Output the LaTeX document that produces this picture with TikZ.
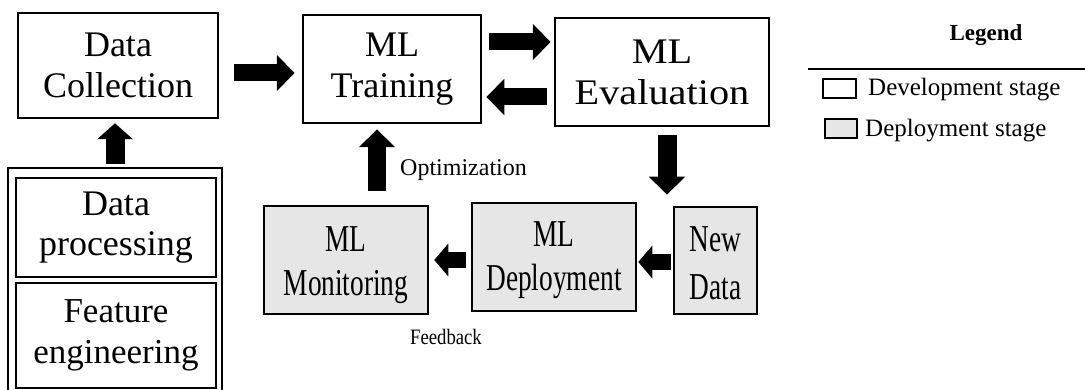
\documentclass[tikz,border=0pt]{standalone}
\usepackage{fontspec}
\setmainfont{Liberation Serif}
\newfontfamily\narrowserif[FakeStretch=0.72]{Liberation Serif}
\newfontfamily\wideserif[FakeStretch=1.12]{Liberation Serif}
\newfontfamily\fbserif[FakeStretch=0.85]{Liberation Serif}
\usetikzlibrary{arrows.meta,calc}
\definecolor{boxgray}{RGB}{230,230,230}
\newcommand{\lift}[1]{\rule{0pt}{#1pt}}
\begin{document}
\begin{tikzpicture}[x=1pt,y=-1pt,
  box/.style={draw, line width=2.5pt, inner sep=0pt, align=center,
    font=\fontsize{36}{41}\selectfont},
  devbox/.style={box, fill=white},
  depbox/.style={box, fill=boxgray, font=\narrowserif\fontsize{38}{44}\selectfont},
  barrow/.style={line width=17pt, -{Triangle[length=18pt,width=35pt]}},
  sarrow/.style={line width=16pt, -{Triangle[length=14pt,width=32pt]}},
  small/.style={inner sep=0pt, font=\fontsize{22}{26}\selectfont}]
\useasboundingbox (0,0) rectangle (1085,390);
% nodes
\node[devbox, minimum width=200pt, minimum height=105pt] (dc) at (118,65.5) {Data\\Collection};
\node[draw, line width=2pt, minimum width=214pt, minimum height=223pt, inner sep=0pt] (grp) at (115,279.5) {};
\node[devbox, minimum width=200pt, minimum height=99pt, font=\fontsize{36}{40}\selectfont] (dp) at (116,227.5) {Data\\processing};
\node[devbox, minimum width=200pt, minimum height=105pt, font=\fontsize{35}{41}\selectfont] (fe) at (116,335.5) {Feature\\engineering};
\node[devbox, minimum width=178pt, minimum height=108pt] (tr) at (392,69) {ML\\Training};
\node[devbox, minimum width=214pt, minimum height=108pt, font=\wideserif\fontsize{36}{41}\selectfont] (ev) at (662,72) {ML\\Evaluation};
\node[depbox, minimum width=164pt, minimum height=108pt] (mon) at (346,260) {\lift{35}ML\\Monitoring};
\node[depbox, minimum width=164pt, minimum height=108pt] (dep) at (554,257) {\lift{31}ML\\Deployment};
\node[depbox, minimum width=83pt, minimum height=107pt, font=\narrowserif\fontsize{38}{48}\selectfont] (nd) at (715.5,260.5) {\lift{31}New\\Data};
% arrows
\draw[barrow] ([shift={(15,7.5)}]dc.east) -- ([shift={(-7,4)}]tr.west);
\draw[barrow] ([shift={(7,-27)}]tr.east) -- ([shift={(-3,-30)}]ev.west);
\draw[barrow] ([shift={(-7,25)}]ev.west) -- ([shift={(4,28)}]tr.east);
\draw[barrow, line width=19pt] ([shift={(5,8)}]ev.south) -- ([shift={(5,-7)}]ev.south |- dep.north);
\draw[barrow, line width=18pt] ([shift={(31,-14)}]mon.north) -- ([shift={(-15,5)}]tr.south);
\draw[sarrow] ([shift={(-5,3)}]dep.west) -- ([shift={(5,0)}]mon.east);
\draw[sarrow] ([shift={(-1.5,1.5)}]nd.west) -- ([shift={(1,5)}]dep.east);
\draw[line width=19pt, -{Triangle[length=16pt,width=35pt]}] ([shift={(0,-3)}]grp.north) -- ([shift={(-3,4)}]dc.south);
% labels
\node[small, anchor=west, font=\fontsize{24}{28}\selectfont] (opt) at (400,170) {Optimization};
\node[small, font=\fbserif\fontsize{22}{26}\selectfont] (fb) at (446,337) {Feedback};
% legend
\node[small, font=\bfseries\fontsize{23}{27}\selectfont] (lg) at (986,35) {Legend};
\coordinate (l1) at (808,69);
\coordinate (l2) at (1085,69);
\draw[line width=2pt] (l1) -- (l2);
\node[draw, line width=1.5pt, fill=white, minimum width=33pt, minimum height=19pt, inner sep=0pt] (k1) at (839.5,88.5) {};
\node[small, anchor=west, font=\fontsize{25}{29}\selectfont] (t1) at (868,90) {Development stage};
\node[draw, line width=1.5pt, fill=boxgray, minimum width=32pt, minimum height=19pt, inner sep=0pt] (k2) at (841,128.5) {};
\node[small, anchor=west, font=\fontsize{25}{29}\selectfont] (t2) at (865,131) {Deployment stage};
\end{tikzpicture}
\end{document}
